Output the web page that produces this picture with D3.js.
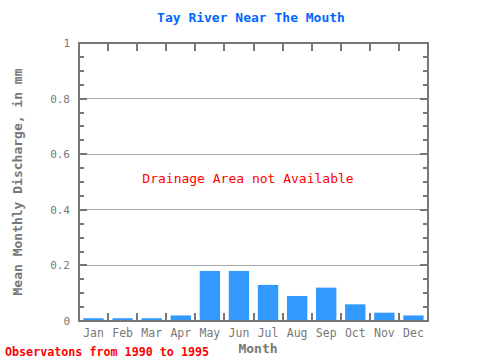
<!DOCTYPE html>
<html><head><meta charset="utf-8">
<script src="https://cdn.jsdelivr.net/npm/d3@7"></script>
<style>body{margin:0;background:#fff}svg{display:block}</style>
</head><body>
<script>
const months = ["Jan","Feb","Mar","Apr","May","Jun","Jul","Aug","Sep","Oct","Nov","Dec"];
const discharge = [0.01,0.01,0.01,0.02,0.18,0.18,0.13,0.09,0.12,0.06,0.03,0.02];
const yTicks = [0,0.2,0.4,0.6,0.8,1];
const yTickLabels = ["0","0.2","0.4","0.6","0.8","1"];

const W=480,H=360, L=79, R=428, T=43, B=321;
const font = "'DejaVu Sans Mono', 'Liberation Mono', monospace";
const axisCol = "#777777";
const svg = d3.select("body").append("svg").attr("width",W).attr("height",H);

const x = d3.scaleBand().domain(months).range([L,R]).paddingInner(0.3).paddingOuter(0.15);
const xb = d3.scaleLinear().domain([0,12]).range([L,R]);
const y = d3.scaleLinear().domain([0,1]).range([B,T]);

// gridlines
svg.append("g").selectAll("line").data(yTicks.filter(v=>v>0&&v<1)).join("line")
  .attr("x1",L).attr("x2",R).attr("y1",d=>y(d)).attr("y2",d=>y(d))
  .attr("stroke","#aaaaaa").attr("stroke-width",1).attr("shape-rendering","crispEdges");

// bars
svg.append("g").selectAll("rect").data(months).join("rect")
  .attr("x",d=>x(d)).attr("width",x.bandwidth())
  .attr("y",(d,i)=>y(discharge[i])).attr("height",(d,i)=>B-y(discharge[i]))
  .attr("fill","#3399ff");

// minor y ticks
const minor = d3.range(0,1.0001,0.05);
const g = svg.append("g").attr("stroke",axisCol).attr("stroke-width",2).attr("shape-rendering","crispEdges");
minor.forEach(v=>{
  const major = Math.abs(v*5-Math.round(v*5))<1e-6;
  const len = major?8:5;
  g.append("line").attr("x1",L).attr("x2",L+len).attr("y1",y(v)).attr("y2",y(v));
  g.append("line").attr("x1",R-len).attr("x2",R).attr("y1",y(v)).attr("y2",y(v));
});
// x boundary ticks
d3.range(1,12).forEach(i=>{
  g.append("line").attr("x1",xb(i)).attr("x2",xb(i)).attr("y1",T).attr("y2",T+8);
  g.append("line").attr("x1",xb(i)).attr("x2",xb(i)).attr("y1",B-8).attr("y2",B);
});
// frame
g.append("rect").attr("x",L).attr("y",T).attr("width",R-L).attr("height",B-T).attr("fill","none");

// y tick labels
svg.append("g").selectAll("text").data(yTicks).join("text")
  .attr("x",70).attr("y",d=>y(d)+4).attr("text-anchor","end")
  .attr("font-family",font).attr("font-size",11).attr("fill",axisCol)
  .text((d,i)=>yTickLabels[i]);

// x tick labels
svg.append("g").selectAll("text").data(months).join("text")
  .attr("x",d=>x(d)+x.bandwidth()/2).attr("y",337).attr("text-anchor","middle")
  .attr("font-family",font).attr("font-size",11.5).attr("fill",axisCol)
  .text(d=>d);

// title
svg.append("text").attr("x",251).attr("y",22).attr("text-anchor","middle")
  .attr("font-family",font).attr("font-size",13).attr("font-weight","bold").attr("fill","#0066ff")
  .text("Tay River Near The Mouth");

// axis titles
svg.append("text").attr("x",258).attr("y",353).attr("text-anchor","middle")
  .attr("font-family",font).attr("font-size",13).attr("font-weight","bold").attr("fill",axisCol)
  .text("Month");
svg.append("text").attr("transform","translate(22,182) rotate(-90)").attr("text-anchor","middle")
  .attr("font-family",font).attr("font-size",13).attr("font-weight","bold").attr("fill",axisCol)
  .text("Mean Monthly Discharge, in mm");

// note
svg.append("text").attr("x",248).attr("y",183).attr("text-anchor","middle")
  .attr("font-family",font).attr("font-size",13).attr("fill","#ff0000")
  .text("Drainage Area not Available");

svg.append("text").attr("x",5).attr("y",356)
  .attr("font-family",font).attr("font-size",11.7).attr("font-weight","bold").attr("fill","#ff0000")
  .text("Observatons from 1990 to 1995");
</script>
</body></html>
